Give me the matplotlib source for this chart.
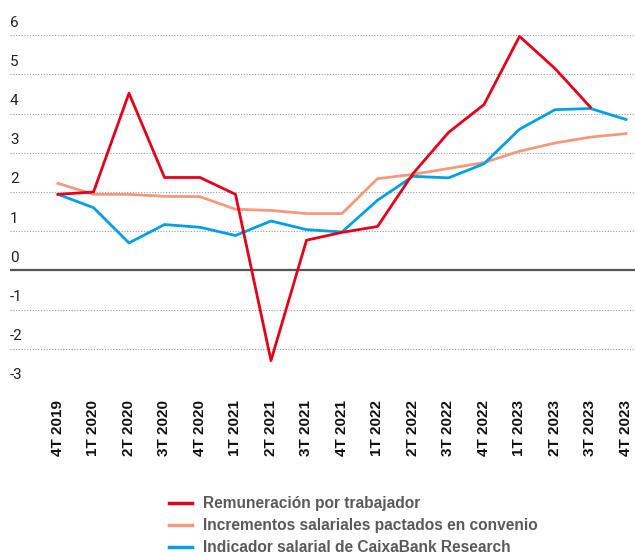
import matplotlib
matplotlib.use("Agg")
import matplotlib.pyplot as plt
import numpy as np

plt.rcParams['font.family'] = ['Roboto', 'DejaVu Sans']

categories = ["4T 2019", "1T 2020", "2T 2020", "3T 2020", "4T 2020",
              "1T 2021", "2T 2021", "3T 2021", "4T 2021",
              "1T 2022", "2T 2022", "3T 2022", "4T 2022",
              "1T 2023", "2T 2023", "3T 2023", "4T 2023"]

remuneracion = [1.94, 2.0, 4.52, 2.37, 2.37, 1.94, -2.3, 0.77, 0.97,
                1.12, 2.47, 3.52, 4.23, 5.97, 5.15, 4.16, np.nan]
convenio = [2.22, 1.94, 1.94, 1.89, 1.88, 1.56, 1.53, 1.45, 1.45,
            2.34, 2.45, 2.6, 2.75, 3.04, 3.25, 3.4, 3.49]
caixabank = [1.94, 1.6, 0.7, 1.17, 1.1, 0.89, 1.26, 1.04, 0.98,
             1.79, 2.4, 2.36, 2.72, 3.6, 4.1, 4.13, 3.85]

yticks = [-3, -2, -1, 0, 1, 2, 3, 4, 5, 6]
labels = ["Remuneración por trabajador",
          "Incrementos salariales pactados en convenio",
          "Indicador salarial de CaixaBank Research"]
colors = ["#E2001A", "#F39A7C", "#00A0E3"]

W, H = 635, 554
fig = plt.figure(figsize=(W / 100, H / 100), dpi=100)
ax_l, ax_r, ax_b, ax_t = 10, 635, 388, 10
ax = fig.add_axes([ax_l / W, 1 - ax_b / H, (ax_r - ax_l) / W, (ax_b - ax_t) / H])

x = np.arange(len(categories))
step = 35.5
ax.set_xlim(-(58 - ax_l) / step, (ax_r - 58) / step)
ppu = 39.2
ax.set_ylim(-3, -3 + (ax_b - ax_t) / ppu)

for yv in yticks:
    if yv == 0:
        ax.axhline(0, color="#555555", lw=1.6, zorder=1)
    else:
        ax.axhline(yv, color="#999999", lw=0.8, ls=(0, (1, 1.5)), zorder=1)
    ax.annotate(str(yv), xy=(0, yv), xycoords=ax.get_yaxis_transform(),
                xytext=(0, 4), textcoords="offset points",
                ha="left", va="bottom", fontsize=11, color="#222222")

l2, = ax.plot(x, convenio, color=colors[1], lw=2.0, zorder=3)
l3, = ax.plot(x, caixabank, color=colors[2], lw=2.0, zorder=4)
l1, = ax.plot(x, remuneracion, color=colors[0], lw=2.0, zorder=5)

ax.set_xticks(x)
ax.set_xticklabels(categories, rotation=90, fontweight="bold", fontsize=11,
                   color="#111111", family=["Liberation Sans", "DejaVu Sans"])
ax.tick_params(axis="x", length=0, pad=9)
ax.set_yticks([])
for s in ax.spines.values():
    s.set_visible(False)

leg = fig.legend([l1, l2, l3], labels, loc="upper left",
                 bbox_to_anchor=(163 / W, 1 - 490 / H), frameon=False,
                 prop={"weight": "bold", "size": 11.2,
                       "family": ["Liberation Sans", "DejaVu Sans"]},
                 labelcolor="#5a5a5a",
                 handlelength=1.45, handletextpad=0.75, labelspacing=0.45,
                 borderaxespad=0)
for ln in leg.get_lines():
    ln.set_linewidth(2.5)

fig.savefig("out.png", dpi=100)
